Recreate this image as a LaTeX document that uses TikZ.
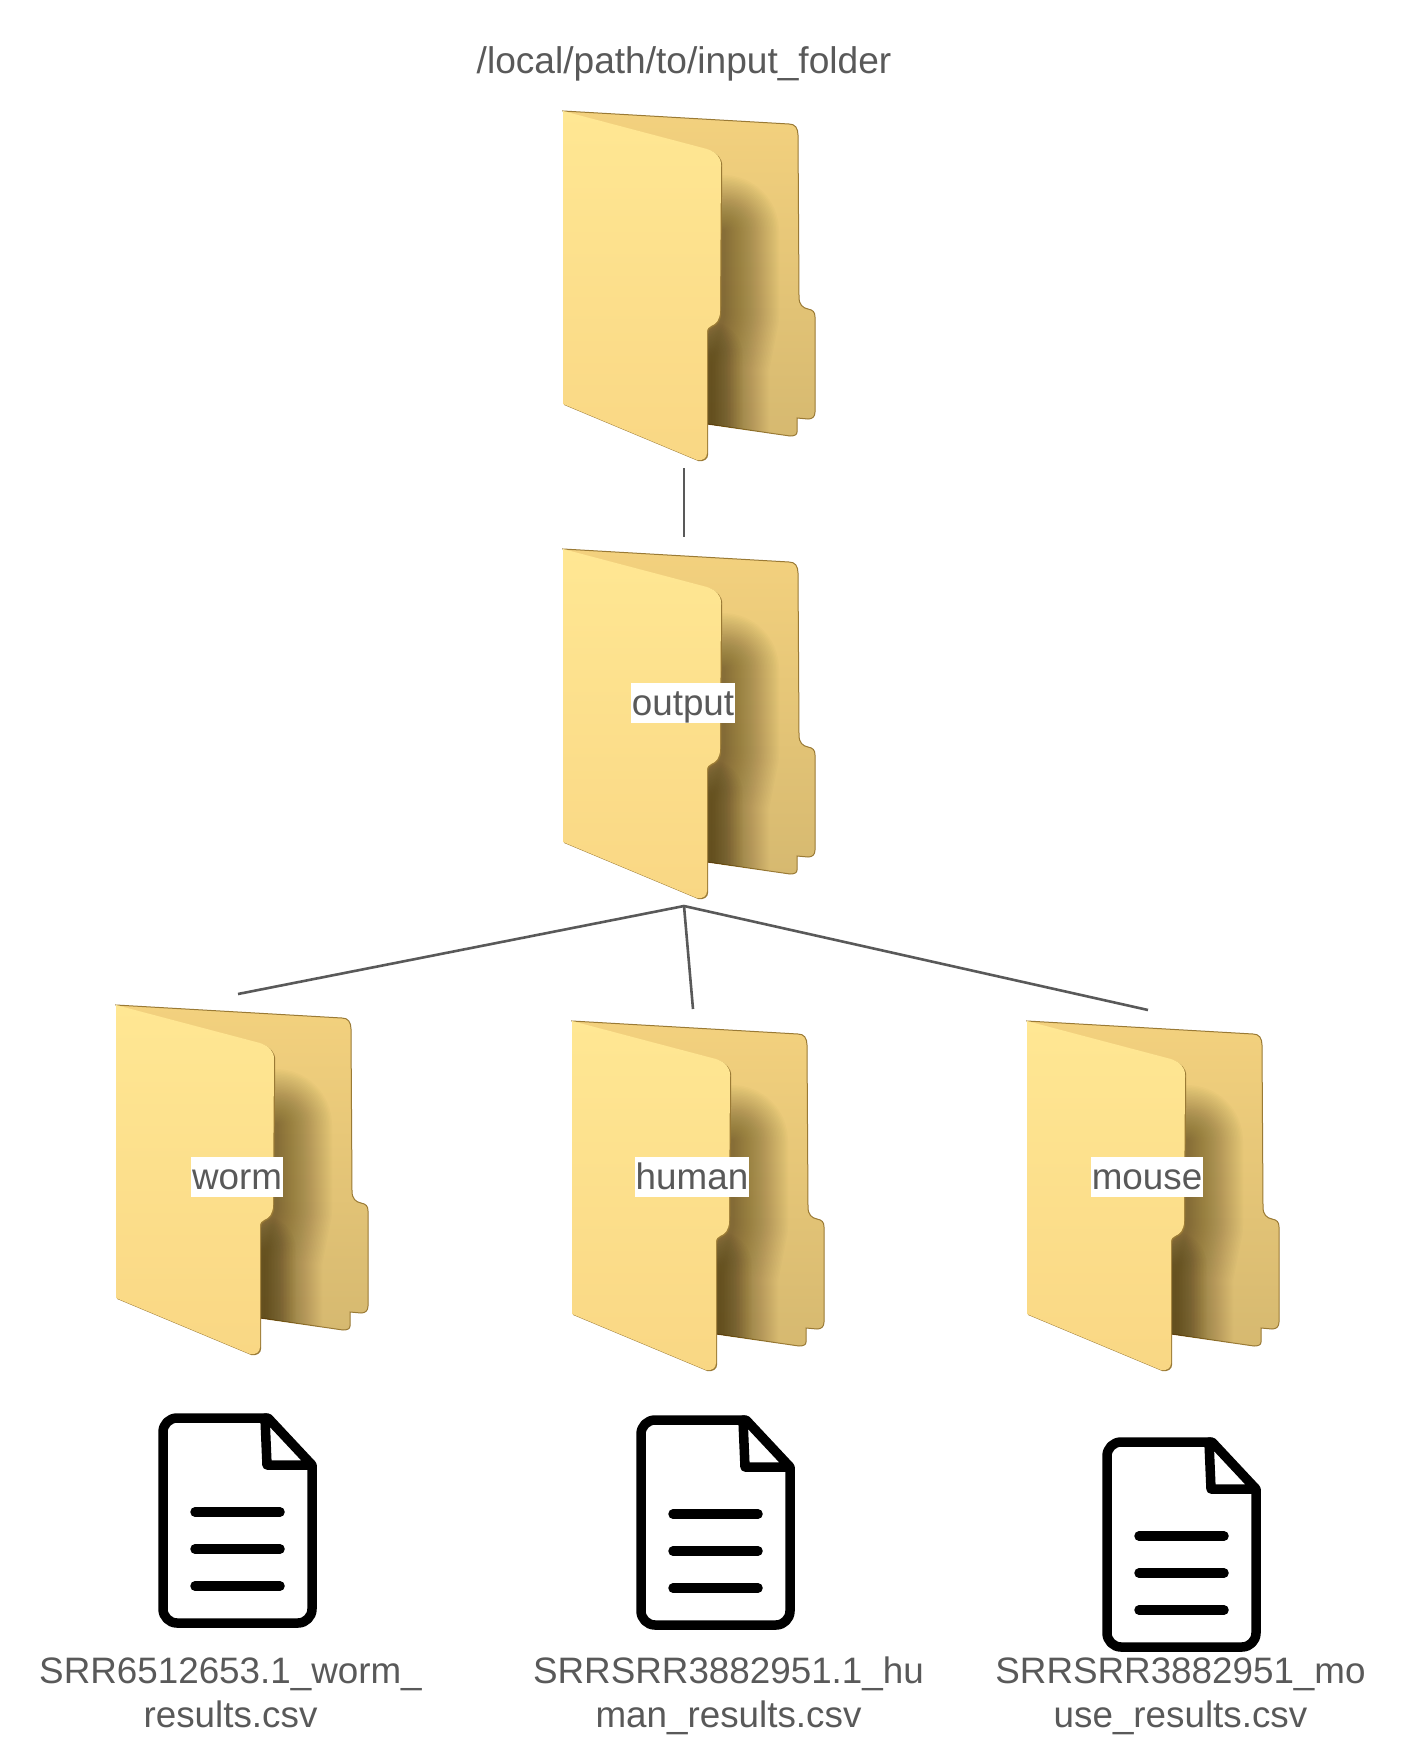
\documentclass[tikz,border=0pt]{standalone}
\usepackage{fontspec}
\setmainfont{Liberation Sans}
\definecolor{inkgray}{HTML}{595959}
\definecolor{frontTop}{HTML}{FFE793}
\definecolor{frontBot}{HTML}{F9D784}
\definecolor{backTop}{HTML}{F3D17E}
\definecolor{backBot}{HTML}{D6B970}
\definecolor{foldEdge}{HTML}{9A7A35}
\definecolor{foldShade}{HTML}{43330F}
\tikzset{
  lbl/.style={text=inkgray,font=\fontsize{36.8}{44}\selectfont,inner sep=0pt,align=center},
  tag/.style={lbl,fill=white,inner xsep=1pt,inner ysep=3pt,text height=29pt,text depth=5pt},
  conn/.style={draw=inkgray,line width=2.6pt},
  folder/.pic={
    % back panel
    \path[draw=foldEdge,line width=1pt,top color=backTop,bottom color=backBot]
      (0,0) -- (226,13) .. controls (232,13) and (235,17) .. (235,24) -- (236,186)
      .. controls (236,194) and (240,197) .. (245,198) .. controls (250,199) and (252,201) .. (252,206)
      -- (252,301) .. controls (252,306) and (249,308) .. (245,308) -- (234,307) -- (234,321)
      .. controls (234,324) and (231,325) .. (227,325) -- (144,313) -- cycle;
    % soft shadow of the front panel
    \begin{scope}
      \clip (0,0) -- (226,13) -- (235,24) -- (236,186) -- (245,198) -- (252,206) -- (252,301)
        -- (245,308) -- (234,307) -- (234,321) -- (227,325) -- (144,313) -- cycle;
      \foreach \w in {112,109,...,4}
        \draw[foldShade,opacity=0.018,line width=\w pt,line join=round,line cap=round]
          (160,120) -- (160,205) -- (150,255) -- (150,320);
      \foreach \w in {70,67,...,4}
        \draw[foldShade,opacity=0.02,line width=\w pt,line join=round,line cap=round]
          (145,245) -- (145,315);
    \end{scope}
    % dark edge, then the front panel
    \path[fill=foldEdge,xshift=1.2pt,yshift=-1pt]
      (0,0) -- (144,38) .. controls (153,41) and (158,46) .. (158,54) -- (157,200)
      .. controls (157,209) and (153,213) .. (148,215) .. controls (145,216) and (144,218) .. (144,222)
      -- (144,342) .. controls (144,347) and (140,350) .. (134,349) -- (0,293) -- cycle;
    \path[top color=frontTop,bottom color=frontBot]
      (0,0) -- (144,38) .. controls (153,41) and (158,46) .. (158,54) -- (157,200)
      .. controls (157,209) and (153,213) .. (148,215) .. controls (145,216) and (144,218) .. (144,222)
      -- (144,342) .. controls (144,347) and (140,350) .. (134,349) -- (0,293) -- cycle;
  },
  csvdoc/.pic={
    \draw[black,line width=9.5pt,line join=round,rounded corners=14pt]
      (109,0) -- (5,0) -- (5,205) -- (154,205) -- (154,47);
    \draw[black,line width=9.5pt,line join=round]
      (107,0) -- (110,0) -- (154,47) -- (109,47) -- cycle;
    \foreach \yy in {94,131,168}
      \draw[black,line width=9.5pt,line cap=round] (37,\yy) -- (122,\yy);
  }
}
\begin{document}
\begin{tikzpicture}[x=1pt,y=-1pt]
  \useasboundingbox (0,0) rectangle (1407,1760);
  % folders
  \pic (fld_in) at (563,111) {folder};
  \pic (fld_out) at (563,549) {folder};
  \pic (fld_worm) at (116,1005) {folder};
  \pic (fld_human) at (572,1021) {folder};
  \pic (fld_mouse) at (1027,1021) {folder};
  % files
  \pic (doc_worm) at (158,1418) {csvdoc};
  \pic (doc_human) at (636,1420) {csvdoc};
  \pic (doc_mouse) at (1102,1442) {csvdoc};
  % labels
  \node[lbl,font=\fontsize{37.1}{44}\selectfont] (lbl_in) at (684,64.4) {/local/path/to/input\_folder};
  \node[tag] (lbl_out) at (683,703) {output};
  \node[tag] (lbl_worm) at (237,1177) {worm};
  \node[tag] (lbl_human) at (692,1177) {human};
  \node[tag] (lbl_mouse) at (1147,1177) {mouse};
  \node[lbl,anchor=base] (file_worm) at (230.5,1727) {SRR6512653.1\_worm\_\\results.csv};
  \node[lbl,anchor=base] (file_human) at (728.5,1727) {SRRSRR3882951.1\_hu\\man\_results.csv};
  \node[lbl,anchor=base] (file_mouse) at (1180.5,1727) {SRRSRR3882951\_mo\\use\_results.csv};
  % connectors
  \coordinate (in_foot) at (684,468);
  \coordinate (out_head) at (684,537);
  \coordinate (out_foot) at (684,906);
  \coordinate (worm_head) at (238,994);
  \coordinate (human_head) at (693,1009);
  \coordinate (mouse_head) at (1148,1010);
  \path[conn] (in_foot) -- (out_head);
  \path[conn] (out_foot) -- (worm_head);
  \path[conn] (out_foot) -- (human_head);
  \path[conn] (out_foot) -- (mouse_head);
\end{tikzpicture}
\end{document}
